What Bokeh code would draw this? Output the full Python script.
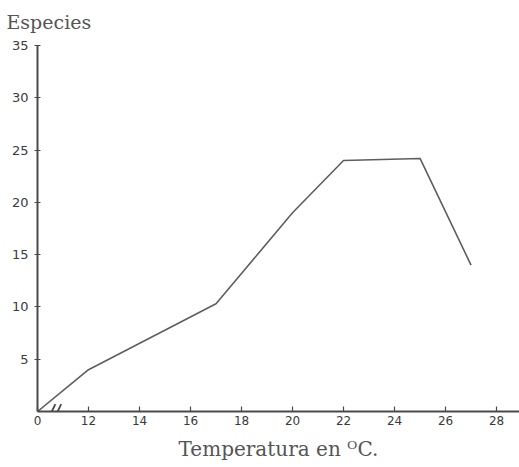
from bokeh.plotting import figure
from bokeh.models import FixedTicker, Range1d
from bokeh.embed import file_html
from bokeh.resources import INLINE

# ---- data ----
temperatures = [0, 12, 17, 20, 22, 25, 27]          # deg C
species = [0, 4, 10.3, 19, 24, 24.2, 14]              # number of species

x_tick_values = [0, 12, 14, 16, 18, 20, 22, 24, 26, 28]
x_tick_labels = ["0", "12", "14", "16", "18", "20", "22", "24", "26", "28"]
y_tick_values = [5, 10, 15, 20, 25, 30, 35]
y_tick_labels = ["5", "10", "15", "20", "25", "30", "35"]

BREAK_T = 12      # axis is broken between 0 and 12 deg C
BREAK_W = 2       # display width given to the broken stretch


def to_display(t):
    """Map temperature onto the broken x axis."""
    if t <= BREAK_T:
        return t * BREAK_W / BREAK_T
    return t - BREAK_T + BREAK_W


xd = [to_display(t) for t in temperatures]

AXIS_COLOR = "#4a4a4a"
LINE_COLOR = "#5e5e5e"
TEXT_COLOR = "#3a3a3a"
SERIF = "DejaVu Serif"

p = figure(width=519, height=467, output_backend="svg", toolbar_location=None,
           x_range=Range1d(0, 18.9), y_range=Range1d(0, 35),
           min_border_left=37, min_border_right=0, min_border_top=45,
           min_border_bottom=56)
p.outline_line_color = None
p.grid.visible = False
p.background_fill_color = "white"

p.line(xd, species, line_color=LINE_COLOR, line_width=1.6)

# title
p.title.text = "Especies"
p.title.align = "left"
p.title.offset = -31
p.title.text_font = SERIF
p.title.text_font_size = "19px"
p.title.text_font_style = "normal"
p.title.text_color = "#555555"
p.title.text_line_height = 0.8
p.title.standoff = 21
p.title.vertical_align = "top"

# x axis
xa = p.xaxis[0]
xa.ticker = FixedTicker(ticks=[to_display(t) for t in x_tick_values])
xa.major_label_overrides = {to_display(t): s for t, s in zip(x_tick_values, x_tick_labels)}
xa.axis_line_color = AXIS_COLOR
xa.axis_line_width = 2
xa.major_tick_in = 5
xa.major_tick_out = 0
xa.major_tick_line_color = AXIS_COLOR
xa.major_tick_line_width = 1.2
xa.minor_tick_line_color = None
xa.major_label_text_font = "DejaVu Sans"
xa.major_label_text_font_size = "12px"
xa.major_label_text_color = TEXT_COLOR
xa.major_label_standoff = 4
xa.axis_label = "Temperatura en \u1d3cC."
xa.axis_label_text_font = SERIF
xa.axis_label_text_font_size = "20px"
xa.axis_label_text_font_style = "normal"
xa.axis_label_text_color = "#555555"
xa.axis_label_standoff = 9

# y axis
ya = p.yaxis[0]
ya.ticker = FixedTicker(ticks=y_tick_values)
ya.major_label_overrides = {v: s for v, s in zip(y_tick_values, y_tick_labels)}
ya.axis_line_color = AXIS_COLOR
ya.axis_line_width = 2
ya.major_tick_in = 3
ya.major_tick_out = 3
ya.major_tick_line_color = AXIS_COLOR
ya.major_tick_line_width = 1.2
ya.minor_tick_line_color = None
ya.major_label_text_font = "DejaVu Sans"
ya.major_label_text_font_size = "13px"
ya.major_label_text_color = TEXT_COLOR
ya.major_label_standoff = 6

# axis break marks "//"
for c in (0.63, 0.86):
    p.segment(x0=c - 0.07, y0=0, x1=c + 0.07, y1=0.7,
              line_color=AXIS_COLOR, line_width=1.8)

open("out.html", "w").write(file_html(p, INLINE))
